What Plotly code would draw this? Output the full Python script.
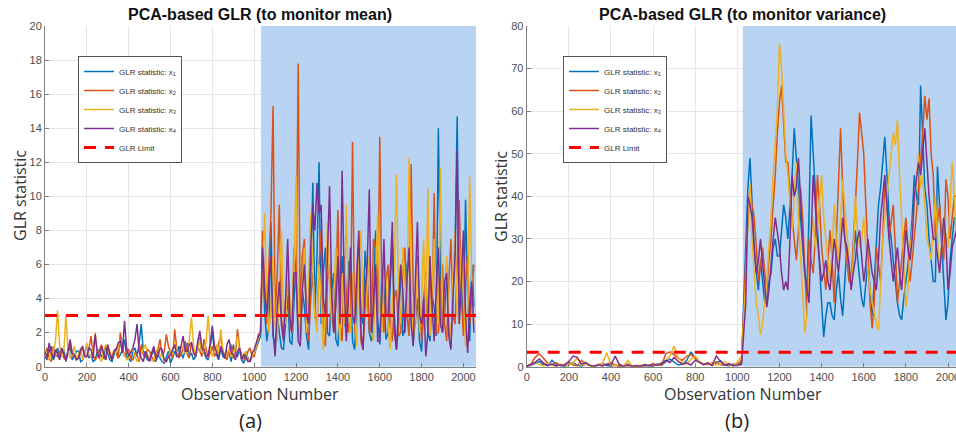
import plotly.graph_objects as go

# ---------------- data ----------------
# Panel (a) pre-fault: observations 0..1030 every 10; post-fault 1040..2050 every 10
A_PRE_STEP = 10
B_PRE_STEP = 20
POST_STEP = 10
POST_START = 1040

a_x1_pre = [0.6,0.4, 0.9,1.2, 0.4,0.7, 1.1,0.5, 0.7,1.0, 0.3,0.8, 1.2,0.4, 0.6,0.9, 0.9,0.3, 0.4,0.8,
            1.3,0.5, 0.7,0.3, 0.4,0.9, 1.0,0.6, 0.5,1.2, 0.8,0.4, 0.3,0.7, 1.1,0.5, 0.7,1.0, 1.6,0.6,
            0.5,0.3, 0.9,1.1, 0.6,1.4, 2.5,0.9, 0.8,0.4, 0.4,0.7, 1.0,0.3, 0.7,0.5, 0.3,0.2, 0.6,0.9,
            0.2,0.5, 0.9,0.6, 1.2,0.8, 0.5,1.0, 1.4,0.6, 0.8,0.4, 0.6,1.1, 1.7,0.7, 0.9,0.5, 0.4,1.2,
            2.1,0.8, 0.7,0.4, 1.1,0.6, 0.5,0.9, 0.8,0.3, 1.3,0.7, 0.6,1.0, 0.4,0.2, 0.9,0.5, 0.3,0.6,
            0.7,1.1, 1.5,1.8]
a_x2_pre = [0.8,1.1, 0.5,0.3, 1.2,0.7, 0.6,0.9, 0.9,0.5, 0.4,1.0, 1.5,0.6, 0.7,0.4, 0.5,0.8, 1.1,0.6,
            0.6,1.0, 1.8,0.7, 0.4,0.6, 0.9,1.3, 0.7,0.4, 1.2,0.8, 0.5,1.0, 0.8,0.5, 2.0,1.2, 0.6,0.9,
            1.0,0.5, 0.4,0.8, 0.7,0.3, 1.3,0.7, 0.5,1.0, 0.9,0.6, 0.3,0.5, 1.1,1.6, 0.6,0.9, 1.9,1.2,
            0.8,0.5, 2.2,1.0, 0.5,0.8, 1.0,1.5, 0.7,0.5, 1.4,0.9, 0.6,1.2, 0.9,0.6, 1.6,1.0, 0.5,0.8,
            1.2,0.6, 0.8,1.4, 1.8,0.9, 0.6,0.4, 1.0,1.3, 0.5,0.7, 2.2,1.1, 0.7,0.5, 0.4,0.9, 1.1,0.6,
            0.6,1.2, 1.9,2.0]
a_x3_pre = [1.0,0.6, 0.4,0.9, 0.8,1.5, 3.3,1.2, 0.6,0.9, 3.0,1.0, 0.5,0.7, 1.2,0.5, 0.7,1.1, 0.4,0.8,
            1.4,0.7, 0.6,1.0, 2.0,0.8, 0.5,0.3, 0.9,1.3, 1.1,0.6, 0.4,0.9, 0.8,1.2, 1.6,0.9, 0.7,0.4,
            0.5,0.8, 1.0,0.6, 0.3,0.5, 0.8,1.1, 1.3,0.7, 0.6,0.4, 0.4,0.9, 1.1,0.6, 0.7,0.3, 0.3,0.6,
            1.0,0.7, 1.5,0.9, 0.6,1.1, 1.2,0.8, 0.8,1.6, 2.9,1.2, 0.7,1.0, 1.6,0.8, 0.9,1.5, 3.0,1.1,
            0.6,0.9, 1.3,0.7, 2.2,1.0, 0.5,0.8, 1.0,0.6, 0.7,1.2, 1.8,0.9, 0.5,0.7, 0.9,0.4, 0.4,0.6,
            0.8,1.2, 1.7,2.1]
a_x4_pre = [0.9,0.5, 1.4,0.8, 0.5,1.0, 0.8,0.4, 1.1,0.7, 0.4,0.9, 1.6,0.8, 0.7,0.4, 0.5,1.0, 1.2,0.6,
            0.6,1.1, 1.0,0.5, 1.9,0.8, 0.5,1.2, 0.8,0.4, 1.3,0.7, 0.4,0.9, 1.0,1.4, 1.5,0.8, 2.7,1.1,
            0.6,0.9, 1.1,1.6, 2.5,0.9, 0.5,0.3, 0.9,0.6, 0.3,0.8, 1.2,0.5, 0.7,1.1, 1.0,0.4, 0.3,0.6,
            0.7,1.0, 1.3,0.6, 0.6,1.2, 1.8,0.9, 0.9,1.3, 1.4,0.8, 0.6,1.5, 2.1,1.1, 1.0,0.6, 0.7,1.4,
            2.4,1.2, 0.8,0.5, 1.2,0.9, 0.5,1.3, 1.6,0.8, 0.7,0.4, 0.9,1.1, 0.4,0.7, 0.6,0.3, 0.3,0.8,
            1.0,1.4, 1.8,2.0]

a_x1_post = [6.8,3.2,1.5,2.4,8.5,1.8,1.2,3.0,2.0,1.1,
             1.0,2.6,4.2,1.5,1.3,3.8,6.0,2.2,1.5,4.5,
             3.5,1.8,1.0,5.0,10.8,3.2,6.5,12.0,2.5,5.5,
             7.0,2.0,1.8,4.5,5.5,1.6,1.2,3.8,6.5,2.8,
             2.0,6.2,5.0,1.5,1.0,4.0,7.5,3.0,2.5,6.8,
             5.2,2.0,1.5,3.5,8.0,2.8,1.3,5.5,4.5,1.6,
             2.0,4.8,7.2,3.0,1.0,2.5,5.8,1.8,2.2,6.0,
             6.5,3.2,1.4,2.8,4.0,1.5,0.9,3.6,5.0,2.0,
             1.5,4.2,3.5,1.8,14.0,5.5,2.0,3.0,6.0,2.4,
             1.2,4.5,7.0,14.7,3.0,5.2,2.5,9.8,4.0,1.5,
             6.0,3.5]
a_x2_post = [8.0,4.5,2.5,6.0,9.0,15.3,3.0,5.5,9.5,2.8,
             1.8,4.0,5.0,2.5,2.0,7.0,4.5,17.8,3.0,6.5,
             7.5,2.5,1.5,4.0,5.5,3.0,2.5,6.0,8.0,2.0,
             1.2,5.0,6.0,3.5,2.0,4.5,9.2,2.5,1.5,6.5,
             4.5,2.0,3.0,13.2,2.0,5.0,6.5,1.5,1.0,3.5,
             5.5,2.0,2.5,7.5,7.0,3.0,13.5,4.0,2.0,5.0,
             6.0,2.5,1.5,4.0,4.5,1.8,2.0,5.5,7.0,3.0,
             1.8,11.9,4.5,2.5,6.5,3.5,1.5,4.0,5.5,2.0,
             5.5,3.0,10.2,2.0,2.0,4.5,6.0,2.5,1.5,5.0,
             7.5,3.0,2.5,6.0,9.8,4.0,1.8,5.0,6.5,2.5,
             4.5,6.0]
a_x3_post = [5.5,9.0,4.0,2.0,3.5,6.5,2.5,1.5,5.0,8.0,
             3.0,2.5,6.0,4.0,2.0,6.0,11.2,3.5,1.5,5.0,
             7.0,2.0,4.5,9.0,5.5,3.0,2.0,6.0,4.0,1.0,
             3.5,8.5,5.0,2.5,4.0,7.0,3.0,1.5,5.5,2.5,
             9.5,4.0,2.0,5.5,3.0,1.2,6.0,8.0,3.5,2.5,
             4.5,6.5,2.0,1.5,5.0,9.0,3.5,2.0,6.5,5.0,
             2.5,1.0,3.5,6.0,11.3,4.0,2.5,7.0,5.0,3.0,
             12.3,4.5,1.5,3.0,6.0,2.0,4.0,7.5,3.0,10.5,
             1.8,5.0,7.5,4.0,2.5,11.7,2.0,4.5,6.5,3.0,
             1.5,5.5,8.0,3.0,2.5,7.0,4.0,1.2,3.5,11.2,
             5.0,2.5]
a_x4_post = [7.0,4.5,3.0,5.0,6.5,2.0,0.6,3.5,5.0,2.5,
             1.5,4.0,7.5,3.0,2.0,5.5,5.5,1.5,1.2,4.5,
             6.0,3.0,2.5,7.0,9.5,8.0,10.8,9.0,9.5,4.0,
             3.0,6.5,10.6,4.5,2.0,3.5,6.5,2.5,11.5,5.0,
             1.5,4.0,7.0,3.0,2.5,5.5,8.0,2.0,1.0,4.5,
             6.0,10.4,2.0,3.5,6.0,1.5,1.5,4.0,7.5,3.0,
             3.0,5.5,8.5,2.0,1.0,3.5,6.0,4.5,2.0,5.0,
             7.0,2.5,1.2,5.0,8.5,3.0,2.5,4.0,0.6,2.0,
             6.5,3.5,1.5,4.5,7.0,2.5,2.0,5.0,5.5,1.8,
             1.0,4.0,6.5,12.7,2.5,5.0,8.0,3.0,0.8,3.5,
             5.0,2.0]
a_limit = 3.0

# Panel (b): pre-fault every 20 (0..1020), post-fault every 10 (1040..2050)
b_x1_pre = [0.1,0.3,0.8,1.2,0.5,0.2,1.5,0.6,0.2,0.1,
            0.4,1.0,0.3,0.1,0.6,0.2,0.1,0.3,0.8,0.2,
            0.1,0.4,0.1,0.2,0.6,0.1,0.3,0.1,0.5,0.2,
            0.1,0.7,0.3,1.2,1.8,1.0,0.4,0.6,1.5,3.5,
            2.0,1.2,0.5,0.8,0.3,0.9,1.4,0.4,0.2,0.6,
            0.3,1.0]
b_x2_pre = [0.2,0.6,2.2,3.0,2.0,0.8,0.4,0.9,0.3,0.5,
            1.2,0.4,0.2,1.5,0.6,0.3,0.1,0.4,0.2,0.6,
            1.0,0.3,0.1,0.2,0.5,0.1,0.3,0.2,0.1,0.4,
            0.2,0.5,0.3,3.0,3.5,2.8,2.0,1.5,2.5,2.8,
            1.8,1.0,0.6,0.9,0.4,1.2,0.5,0.3,0.8,0.2,
            0.5,1.5]
b_x3_pre = [0.1,0.4,1.0,0.5,0.2,0.8,0.3,0.1,0.6,0.2,
            0.3,0.9,2.0,0.4,0.7,0.2,0.1,0.5,0.8,3.3,
            0.4,0.2,0.6,0.1,1.5,0.2,0.1,0.4,0.2,0.3,
            0.8,0.4,1.0,1.5,2.5,4.8,2.0,1.0,0.6,1.8,
            2.5,1.2,0.7,0.4,1.0,0.3,0.6,1.2,0.4,0.2,
            1.0,2.5]
b_x4_pre = [0.1,0.5,1.0,1.8,0.8,0.3,0.6,0.2,0.4,0.3,
            1.2,2.5,2.2,0.6,1.0,0.3,0.1,0.5,0.2,0.6,
            0.3,2.5,0.5,0.1,0.3,0.1,0.2,0.1,0.4,0.2,
            0.6,0.3,0.8,1.5,1.0,2.2,1.2,0.6,0.9,0.4,
            1.5,1.0,0.5,0.8,0.3,2.5,1.2,0.4,0.6,0.2,
            0.3,0.5]

b_x1_post = [30,42,49,38,28,22,18,25,20,15,
             15,20,22,28,30,26,26,32,38,35,
             30,38,45,56,48,42,35,28,22,18,
             35,59,50,40,30,22,15,7,12,15,
             15,12,11,18,22,16,12,20,28,24,
             18,25,32,26,20,16,14,20,25,18,
             12,20,30,38,42,48,54,45,35,30,
             25,20,15,12,11,16,20,24,28,35,
             45,40,38,66,55,42,38,30,25,20,
             20,47,38,28,20,11,15,25,30,35,
             35,30]
b_x2_post = [25,35,42,38,35,28,20,24,28,22,
             18,25,30,38,45,55,62,66,58,48,
             48,40,35,30,25,32,42,35,22,12,
             30,25,22,30,45,38,28,22,18,25,
             32,25,15,30,45,56,42,30,25,20,
             20,28,38,48,59.6,55,50,38,25,15,
             9,15,28,24,20,30,44,38,30,34,
             38,28,15,20,25,30,35,28,20,25,
             30,36,42,48,55,63.6,58,63,50,45,
             30,34,38,30,25,44,40,30,35,40,
             40,38]
b_x3_post = [20,35,43,30,22,15,12,7.5,10,15,
             20,28,35,45,52,60,76,70,60,50,
             45,38,32,40,48,35,25,15,8,12,
             22,30,35,28,32,38,45,35,30,25,
             20,28,38,30,25,35,44,38,32,25,
             18,25,40,32,28,30,35,28,22,18,
             15,12,10,8.5,20,30,35,40,45,50,
             55,52,58,45,35,25,14,18,28,32,
             38,45,50,42,45,38,30,28,25,32,
             40,30,22,28,35,30,28,38,48,40,
             30,28]
b_x4_post = [15,40,38,35,28,22,25,30,24,18,
             14,18,25,30,35,32,28,22,18,20,
             18,30,45,40,42,49,38,30,22,18,
             15,30,45,38,30,25,20,22,25,20,
             18,24,30,26,22,28,35,30,28,24,
             18,22,25,30,32,26,20,24,30,26,
             22,20,18,25,35,40,45,38,30,25,
             20,24,28,22,18,25,32,28,25,30,
             40,44,48,45,50,56,48,40,35,30,
             30,26,22,28,35,30,18,22,28,30,
             32,28]
b_limit = 3.4

series_names = ["GLR statistic: x<sub>1</sub>", "GLR statistic: x<sub>2</sub>",
                "GLR statistic: x<sub>3</sub>", "GLR statistic: x<sub>4</sub>"]
limit_name = "GLR Limit"
colors = ["#0072BD", "#D95319", "#EDB120", "#7E2F8E"]

a_pre = [a_x1_pre, a_x2_pre, a_x3_pre, a_x4_pre]
a_post = [a_x1_post, a_x2_post, a_x3_post, a_x4_post]
b_pre = [b_x1_pre, b_x2_pre, b_x3_pre, b_x4_pre]
b_post = [b_x1_post, b_x2_post, b_x3_post, b_x4_post]

a_xmax, b_xmax = 2060, 2038
a_ymax, b_ymax = 20, 80
fault_a, fault_b = 1032, 1026
shade = "rgb(185,211,242)"

# ---------------- figure ----------------
W, H = 956, 436
def px_x(p): return p / W
def px_y(p): return 1 - p / H

fig = go.Figure()

def add_panel(pre, post, pre_step, limit, xa, ya, legend, fault, xmax, ymax):
    # shaded fault region (drawn first, under the lines)
    fig.add_trace(go.Scatter(x=[fault, xmax, xmax, fault, fault], y=[0, 0, ymax, ymax, 0],
                             mode="lines", fill="toself", fillcolor=shade,
                             line=dict(width=0, color=shade), hoverinfo="skip",
                             showlegend=False, xaxis=xa, yaxis=ya))
    for vals_pre, vals_post, name, c in zip(pre, post, series_names, colors):
        xs = [pre_step * i for i in range(len(vals_pre))] + \
             [POST_START + POST_STEP * i for i in range(len(vals_post))]
        ys = list(vals_pre) + list(vals_post)
        fig.add_trace(go.Scatter(x=xs, y=ys, mode="lines", name=name,
                                 line=dict(color=c, width=1.5),
                                 xaxis=xa, yaxis=ya, legend=legend))
    fig.add_trace(go.Scatter(x=[0, 2060], y=[limit, limit], mode="lines",
                             name=limit_name,
                             line=dict(color="#FF0000", width=3, dash="12px,9px"),
                             xaxis=xa, yaxis=ya, legend=legend))

add_panel(a_pre, a_post, A_PRE_STEP, a_limit, "x", "y", "legend", fault_a, a_xmax, a_ymax)
add_panel(b_pre, b_post, B_PRE_STEP, b_limit, "x2", "y2", "legend2", fault_b, 2060, b_ymax)

ydom = [px_y(366.7), px_y(26)]
axis_common = dict(showgrid=True, gridcolor="#e6e6e6", gridwidth=1,
                   showline=True, linecolor="#7f7f7f", linewidth=1,
                   ticks="inside", ticklen=4, tickcolor="#7f7f7f",
                   tickfont=dict(family="Liberation Sans, Arial", size=11, color="#4d4d4d"),
                   zeroline=False, automargin=False)

legend_common = dict(xanchor="left", yanchor="top", bgcolor="white",
                     bordercolor="#555555", borderwidth=1,
                     font=dict(family="Liberation Sans, Arial", size=8, color="#333333"),
                     tracegroupgap=0, itemwidth=30)

fig.update_layout(
    width=W, height=H,
    margin=dict(l=0, r=0, t=0, b=0, pad=0, autoexpand=False),
    paper_bgcolor="white", plot_bgcolor="white",
    showlegend=True,
    xaxis=dict(domain=[px_x(45), px_x(476)], range=[0, a_xmax], dtick=200,
               anchor="y", **axis_common),
    yaxis=dict(domain=ydom, range=[0, a_ymax], dtick=2, anchor="x", **axis_common),
    xaxis2=dict(domain=[px_x(526.7), 1.0], range=[0, b_xmax], dtick=200,
                anchor="y2", ticklabeloverflow="allow", **axis_common),
    yaxis2=dict(domain=ydom, range=[0, b_ymax], dtick=10, anchor="x2", **axis_common),
    legend=dict(x=px_x(78), y=px_y(56), **legend_common),
    legend2=dict(x=px_x(563), y=px_y(56), **legend_common),
)

ann_font_title = dict(family="Liberation Sans, Arial", size=16, color="#111111")
ann_font_axis = dict(family="Open Sans, Liberation Sans", size=16, color="#333333")
ann_font_cap = dict(family="Open Sans, Liberation Sans", size=20, color="#222222")
annotations = [
    dict(text="<b>PCA-based GLR (to monitor mean)</b>", x=px_x(260), y=px_y(15), font=ann_font_title),
    dict(text="<b>PCA-based GLR (to monitor variance)</b>", x=px_x(742), y=px_y(15), font=ann_font_title),
    dict(text="Observation Number", x=px_x(260), y=px_y(394), font=ann_font_axis),
    dict(text="Observation Number", x=px_x(743), y=px_y(394), font=ann_font_axis),
    dict(text="GLR statistic", x=px_x(20), y=px_y(196), textangle=-90, font=ann_font_axis),
    dict(text="GLR statistic", x=px_x(501), y=px_y(196), textangle=-90, font=ann_font_axis),
    dict(text="(a)", x=px_x(250), y=px_y(420), font=ann_font_cap),
    dict(text="(b)", x=px_x(737), y=px_y(420), font=ann_font_cap),
]
for a in annotations:
    a.update(xref="paper", yref="paper", xanchor="center", yanchor="middle", showarrow=False)
fig.update_layout(annotations=annotations)

fig.write_html("out.html")
